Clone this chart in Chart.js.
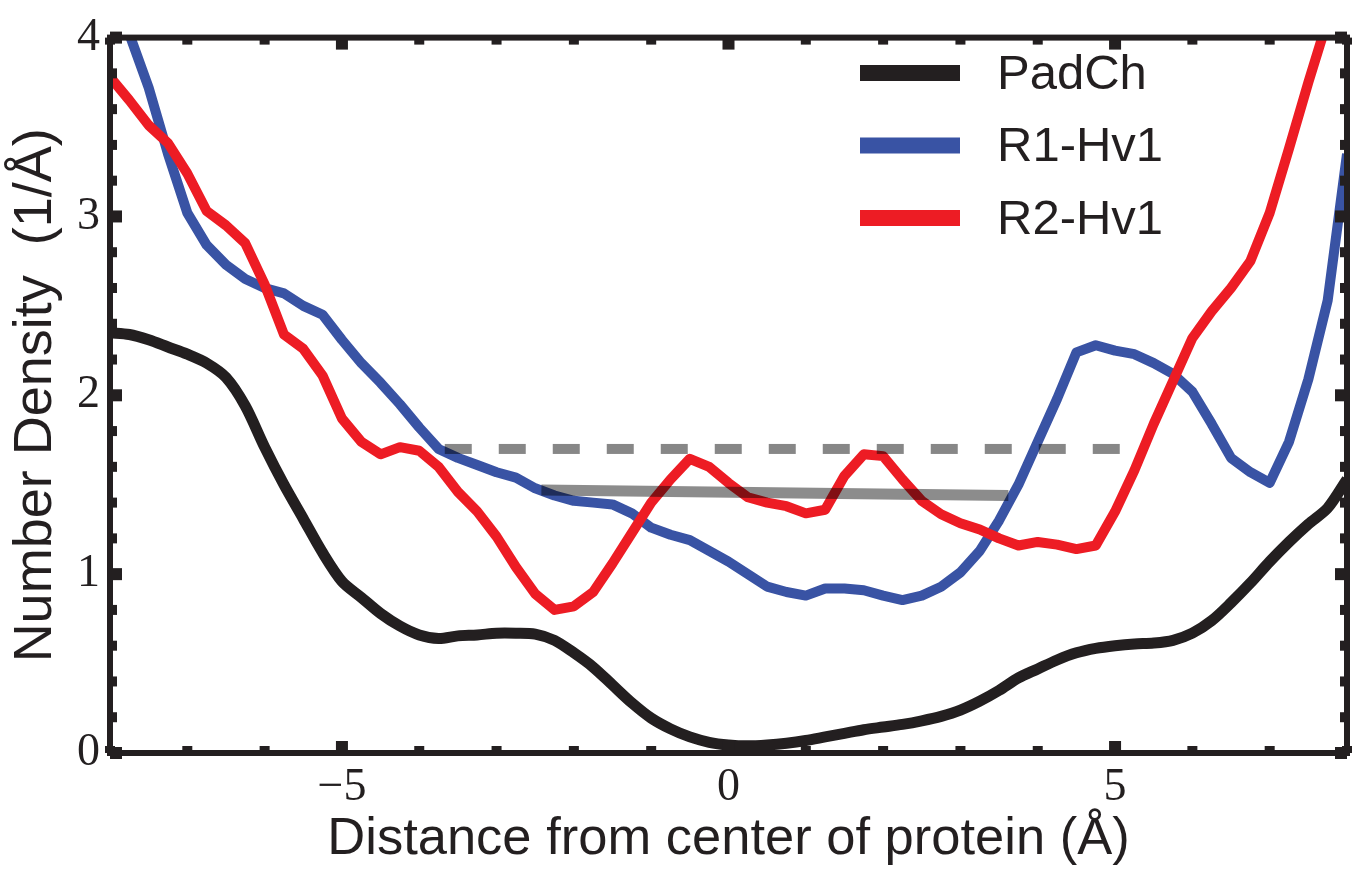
<!DOCTYPE html>
<html>
<head>
<meta charset="utf-8">
<title>Number density</title>
<script src="https://cdn.jsdelivr.net/npm/chart.js@4/dist/chart.umd.min.js"></script>
<style>
  html, body { margin: 0; padding: 0; background: #fff; }
  #wrap { width: 1358px; height: 871px; }
</style>
</head>
<body>
<div id="wrap"><canvas id="densityChart" width="1358" height="871"></canvas></div>
<script>
// distance from protein center (Å), sampled every 0.25
const distance = [-8, -7.75, -7.5, -7.25, -7, -6.75, -6.5, -6.25, -6, -5.75, -5.5, -5.25, -5, -4.75, -4.5, -4.25,
  -4, -3.75, -3.5, -3.25, -3, -2.75, -2.5, -2.25, -2, -1.75, -1.5, -1.25, -1, -0.75, -0.5, -0.25,
  0, 0.25, 0.5, 0.75, 1, 1.25, 1.5, 1.75, 2, 2.25, 2.5, 2.75, 3, 3.25, 3.5, 3.75,
  4, 4.25, 4.5, 4.75, 5, 5.25, 5.5, 5.75, 6, 6.25, 6.5, 6.75, 7, 7.25, 7.5, 7.75, 8];

const padCh = [2.35, 2.34, 2.31, 2.27, 2.23, 2.18, 2.10, 1.94, 1.71, 1.50, 1.31, 1.12, 0.96, 0.87, 0.78, 0.71,
  0.66, 0.64, 0.655, 0.66, 0.67, 0.67, 0.665, 0.63, 0.56, 0.48, 0.38, 0.28, 0.195, 0.135, 0.09, 0.06,
  0.045, 0.04, 0.045, 0.055, 0.07, 0.09, 0.11, 0.13, 0.145, 0.16, 0.18, 0.205, 0.24, 0.29, 0.35, 0.42,
  0.47, 0.52, 0.56, 0.585, 0.60, 0.61, 0.615, 0.63, 0.67, 0.74, 0.84, 0.95, 1.07, 1.18, 1.28, 1.37, 1.53];

const r1Hv1 = [4.6, 4.02, 3.72, 3.35, 3.02, 2.84, 2.73, 2.65, 2.60, 2.57, 2.50, 2.45, 2.31, 2.18, 2.07, 1.95,
  1.82, 1.70, 1.65, 1.61, 1.57, 1.54, 1.48, 1.44, 1.41, 1.40, 1.39, 1.34, 1.26, 1.22, 1.19, 1.13,
  1.07, 1.00, 0.93, 0.90, 0.88, 0.92, 0.92, 0.91, 0.88, 0.855, 0.88, 0.93, 1.01, 1.13, 1.30, 1.50,
  1.74, 1.98, 2.24, 2.28, 2.25, 2.23, 2.18, 2.12, 2.02, 1.84, 1.65, 1.57, 1.51, 1.74, 2.09, 2.53, 3.35];

const r2Hv1 = [3.78, 3.65, 3.51, 3.41, 3.24, 3.03, 2.95, 2.85, 2.62, 2.34, 2.26, 2.11, 1.87, 1.74, 1.67, 1.71,
  1.69, 1.60, 1.46, 1.35, 1.21, 1.04, 0.89, 0.80, 0.82, 0.90, 1.06, 1.23, 1.40, 1.53, 1.645, 1.60,
  1.51, 1.43, 1.40, 1.38, 1.34, 1.36, 1.55, 1.67, 1.66, 1.53, 1.41, 1.335, 1.285, 1.25, 1.20, 1.16,
  1.18, 1.165, 1.14, 1.16, 1.35, 1.58, 1.84, 2.08, 2.32, 2.47, 2.60, 2.75, 3.02, 3.38, 3.75, 4.1, 4.5];

// grey reference levels (start/end x and y)
const dashedRefX = [-3.67, 5.36];
const dashedRefY = [1.70, 1.70];
const solidRefX = [-2.42, 3.62];
const solidRefY = [1.47, 1.44];

const xTickLabels = [-5, 0, 5];
const yTickLabels = [0, 1, 2, 3, 4];

const ink = '#231f20';
const sans = '"Liberation Sans", Arial, Helvetica, sans-serif';
const serif = '"Liberation Serif", "Times New Roman", serif';

const toPoints = (xs, ys) => xs.map((x, i) => ({ x: x, y: ys[i] }));

// box frame with inward ticks on all four sides
const framePlugin = {
  id: 'frame',
  afterDatasetsDraw(chart) {
    const { ctx, chartArea: a, scales: { x, y } } = chart;
    ctx.save();
    ctx.fillStyle = ink;
    for (let v = -8; v <= 8; v++) {
      const px = x.getPixelForValue(v);
      const major = v % 5 === 0;
      const len = major ? 12 : 7, w = major ? 12 : 10;
      ctx.fillRect(px - w / 2, a.bottom - len, w, len);
      ctx.fillRect(px - w / 2, a.top, w, len);
    }
    for (let k = 0; k <= 20; k++) {
      const py = y.getPixelForValue(k / 5);
      const major = k % 5 === 0;
      const len = major ? 12 : 7, w = major ? 12 : 10;
      ctx.fillRect(a.left, py - w / 2, len, w);
      ctx.fillRect(a.right - len, py - w / 2, len, w);
    }
    ctx.strokeStyle = ink;
    ctx.lineWidth = 6;
    ctx.strokeRect(a.left, a.top, a.right - a.left, a.bottom - a.top);
    ctx.restore();
  }
};

// legend inside the plot, top right
const insetLegend = {
  id: 'insetLegend',
  afterDraw(chart) {
    const ctx = chart.ctx;
    const items = chart.data.datasets.filter(d => d.inLegend);
    ctx.save();
    ctx.font = '49px ' + sans;
    ctx.textBaseline = 'middle';
    ctx.textAlign = 'left';
    items.forEach((ds, i) => {
      const yy = 73 + i * 72.5;
      ctx.strokeStyle = ds.borderColor;
      ctx.lineWidth = 16;
      ctx.beginPath();
      ctx.moveTo(860, yy);
      ctx.lineTo(960, yy);
      ctx.stroke();
      ctx.fillStyle = ink;
      ctx.fillText(ds.label, 997, yy + 2);
    });
    ctx.restore();
  }
};

const lineBase = { pointRadius: 0, borderWidth: 10, borderJoinStyle: 'round', clip: 0, fill: false };

new Chart(document.getElementById('densityChart'), {
  type: 'line',
  data: {
    datasets: [
      Object.assign({}, lineBase, {
        label: 'PadCh', inLegend: true, order: 3, borderWidth: 11,
        data: toPoints(distance, padCh), borderColor: ink, tension: 0.3
      }),
      Object.assign({}, lineBase, {
        label: 'R1-Hv1', inLegend: true, order: 2,
        data: toPoints(distance, r1Hv1), borderColor: '#3953a4', tension: 0
      }),
      Object.assign({}, lineBase, {
        label: 'R2-Hv1', inLegend: true, order: 1,
        data: toPoints(distance, r2Hv1), borderColor: '#ed1c24', tension: 0
      }),
      Object.assign({}, lineBase, {
        label: 'dashed level', order: 0, borderJoinStyle: 'miter', borderCapStyle: 'butt',
        data: toPoints(dashedRefX, dashedRefY), borderColor: 'rgba(0,0,0,0.47)', borderDash: [27, 27]
      }),
      Object.assign({}, lineBase, {
        label: 'solid level', order: 0, borderWidth: 11, borderCapStyle: 'butt',
        data: toPoints(solidRefX, solidRefY), borderColor: 'rgba(0,0,0,0.45)'
      })
    ]
  },
  options: {
    responsive: false,
    animation: false,
    devicePixelRatio: 1,
    layout: { padding: { left: 0, top: 25, right: 11, bottom: 0 } },
    plugins: { legend: { display: false }, tooltip: { enabled: false } },
    scales: {
      x: {
        type: 'linear', min: -8, max: 8,
        grid: { display: false, drawTicks: false },
        border: { display: false },
        afterBuildTicks: s => { s.ticks = xTickLabels.map(v => ({ value: v })); },
        afterFit: s => { s.height = 118; },
        ticks: {
          color: ink, padding: 7, maxRotation: 0, autoSkip: false,
          font: { family: serif, size: 46 },
          callback: v => v < 0 ? '\u2212' + Math.abs(v) : String(v)
        },
        title: {
          display: true, text: 'Distance from center of protein (Å)', color: ink,
          font: { family: sans, size: 52.5 }, padding: { top: 0, bottom: 0 }
        }
      },
      y: {
        type: 'linear', min: 0, max: 4,
        grid: { display: false, drawTicks: false },
        border: { display: false },
        afterBuildTicks: s => { s.ticks = yTickLabels.map(v => ({ value: v })); },
        afterFit: s => { s.width = 110; },
        ticks: { color: ink, padding: 10, autoSkip: false, font: { family: serif, size: 46 } },
        title: {
          display: true, text: 'Number Density  (1/Å)', color: ink,
          font: { family: sans, size: 54 }, padding: { top: 4, bottom: 0 }
        }
      }
    }
  },
  plugins: [framePlugin, insetLegend]
});
</script>
</body>
</html>
